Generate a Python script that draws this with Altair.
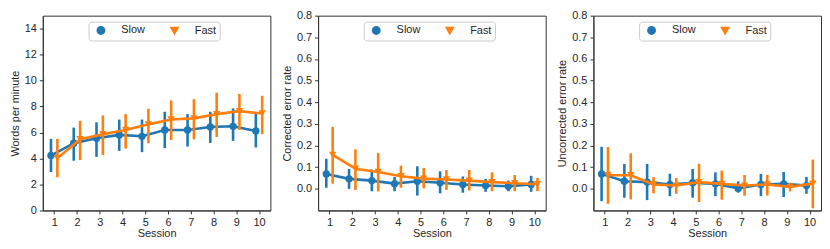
import altair as alt
import pandas as pd

sessions = list(range(1, 11))
series = ["Slow", "Fast"]
colors = ["#1f77b4", "#ff7f0e"]
shapes = ["circle", "triangle-down"]

# Words per minute
wpm_slow = [4.23, 5.18, 5.56, 5.82, 5.71, 6.20, 6.20, 6.43, 6.48, 6.12]
wpm_slow_lo = [2.96, 3.83, 4.13, 4.59, 4.49, 4.80, 4.92, 5.20, 5.36, 4.85]
wpm_slow_hi = [5.51, 6.38, 6.79, 7.00, 7.00, 7.60, 7.42, 7.60, 7.86, 7.47]
wpm_fast = [4.03, 5.48, 5.87, 6.20, 6.63, 7.00, 7.09, 7.42, 7.65, 7.47]
wpm_fast_lo = [2.55, 3.88, 4.26, 4.77, 5.18, 5.43, 5.48, 5.66, 6.20, 5.87]
wpm_fast_hi = [5.51, 6.91, 7.32, 7.42, 7.83, 8.47, 8.57, 9.06, 8.98, 8.83]

# Corrected error rate
cer_slow = [0.069, 0.046, 0.038, 0.024, 0.035, 0.028, 0.020, 0.015, 0.012, 0.020]
cer_slow_lo = [0.005, 0.000, -0.011, -0.011, -0.031, -0.021, -0.018, -0.014, -0.011, -0.014]
cer_slow_hi = [0.139, 0.092, 0.089, 0.055, 0.104, 0.081, 0.057, 0.046, 0.038, 0.060]
cer_fast = [0.157, 0.093, 0.078, 0.058, 0.047, 0.043, 0.038, 0.031, 0.026, 0.021]
cer_fast_lo = [0.024, -0.005, -0.012, 0.005, 0.002, -0.005, -0.008, -0.011, -0.011, -0.011]
cer_fast_hi = [0.287, 0.182, 0.165, 0.107, 0.096, 0.087, 0.087, 0.076, 0.064, 0.050]

# Uncorrected error rate
uer_slow = [0.069, 0.035, 0.031, 0.020, 0.028, 0.023, 0.002, 0.020, 0.023, 0.015]
uer_slow_lo = [-0.057, -0.041, -0.052, -0.034, -0.041, -0.034, -0.018, -0.034, -0.038, -0.023]
uer_slow_hi = [0.194, 0.115, 0.115, 0.070, 0.092, 0.076, 0.034, 0.069, 0.078, 0.055]
uer_fast = [0.063, 0.063, 0.020, 0.015, 0.031, 0.023, 0.015, 0.020, 0.009, 0.024]
uer_fast_lo = [-0.069, -0.049, -0.021, -0.023, -0.061, -0.050, -0.032, -0.031, -0.012, -0.090]
uer_fast_hi = [0.193, 0.164, 0.054, 0.050, 0.116, 0.084, 0.064, 0.064, 0.028, 0.135]

FONT = "Liberation Sans"


def make_df(slow, slow_lo, slow_hi, fast, fast_lo, fast_hi):
    rows = []
    for s, m, lo, hi in (("Slow", slow, slow_lo, slow_hi), ("Fast", fast, fast_lo, fast_hi)):
        for i, sess in enumerate(sessions):
            rows.append({"session": sess, "series": s, "mean": m[i], "lo": lo[i], "hi": hi[i]})
    return pd.DataFrame(rows)


def panel(df, ytitle, domain, ticks, fmt):
    base = alt.Chart(df).transform_calculate(
        xd="datum.session + (datum.series === 'Slow' ? -0.14 : 0.14)"
    )
    xs = alt.X("xd:Q", scale=alt.Scale(domain=[0.5, 10.5], nice=False, zero=False),
               axis=alt.Axis(values=sessions, format="d", title="Session", grid=False,
                             titlePadding=0))
    yscale = alt.Scale(domain=domain, nice=False, zero=False)
    yaxis = alt.Axis(values=ticks, format=fmt, title=ytitle, grid=False)
    legend = alt.Legend(
        orient="none", legendX=46, legendY=6, direction="horizontal", columns=2,
        title=None, strokeColor="#cccccc", cornerRadius=3, fillColor="white",
        padding=3, labelFontSize=11, symbolSize=55, labelOffset=15,
        columnPadding=20, symbolOffset=4, labelFont=FONT, labelColor="#262626",
    )
    color = alt.Color("series:N", scale=alt.Scale(domain=series, range=colors), legend=legend)
    shape = alt.Shape("series:N", scale=alt.Scale(domain=series, range=shapes), legend=legend)
    layers = []
    for s in series:
        b = base.transform_filter(alt.datum.series == s)
        layers.append(b.mark_rule(strokeWidth=2.6).encode(
            x=xs, y=alt.Y("lo:Q", scale=yscale, axis=yaxis), y2="hi:Q", color=color))
        layers.append(b.mark_line(strokeWidth=2.6).encode(
            x=xs, y=alt.Y("mean:Q", scale=yscale, axis=yaxis), color=color))
        layers.append(b.mark_point(filled=True, size=55, opacity=1).encode(
            x=xs, y=alt.Y("mean:Q", scale=yscale, axis=yaxis), color=color, shape=shape))
    return alt.layer(*layers).properties(width=229, height=196)


err_ticks = [0.0, 0.1, 0.2, 0.3, 0.4, 0.5, 0.6, 0.7, 0.8]

p1 = panel(make_df(wpm_slow, wpm_slow_lo, wpm_slow_hi, wpm_fast, wpm_fast_lo, wpm_fast_hi),
           "Words per minute", [0, 15], [0, 2, 4, 6, 8, 10, 12, 14], "d")
p2 = panel(make_df(cer_slow, cer_slow_lo, cer_slow_hi, cer_fast, cer_fast_lo, cer_fast_hi),
           "Corrected error rate", [-0.1, 0.8], err_ticks, ".1f")
p3 = panel(make_df(uer_slow, uer_slow_lo, uer_slow_hi, uer_fast, uer_fast_lo, uer_fast_hi),
           "Uncorrected error rate", [-0.1, 0.8], err_ticks, ".1f")

chart = alt.hconcat(p1, p2, p3, spacing=9, background="white", padding=0).resolve_scale(
    color="independent", shape="independent"
).configure_view(
    stroke="#333333", strokeWidth=1
).configure_axis(
    grid=False, labelFont=FONT, titleFont=FONT, labelFontSize=11, titleFontSize=11,
    titleFontWeight="normal", labelColor="#262626", titleColor="#262626",
    domainColor="#333333", tickColor="#333333", tickSize=3.5, labelPadding=3,
    titlePadding=4, domainWidth=1, tickWidth=1,
)

chart.save("out.html", embed_options={"renderer": "svg", "actions": False})
